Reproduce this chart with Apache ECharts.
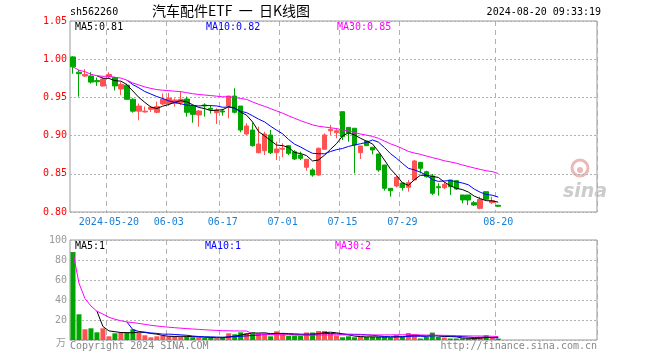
<!DOCTYPE html>
<html><head><meta charset="utf-8">
<script src="https://cdn.jsdelivr.net/npm/echarts@6/dist/echarts.min.js"></script>
<style>html,body{margin:0;padding:0;background:#fff}#c{width:660px;height:360px}</style>
</head><body><div id="c"></div>
<script>
var dates = ['2024-05-10','2024-05-13','2024-05-14','2024-05-15','2024-05-16','2024-05-17','2024-05-20','2024-05-21','2024-05-22','2024-05-23','2024-05-24','2024-05-27','2024-05-28','2024-05-29','2024-05-30','2024-05-31',
'2024-06-03','2024-06-04','2024-06-05','2024-06-06','2024-06-07','2024-06-11','2024-06-12','2024-06-13','2024-06-14','2024-06-17','2024-06-18','2024-06-19','2024-06-20','2024-06-21','2024-06-24','2024-06-25','2024-06-26','2024-06-27','2024-06-28',
'2024-07-01','2024-07-02','2024-07-03','2024-07-04','2024-07-05','2024-07-08','2024-07-09','2024-07-10','2024-07-11','2024-07-12','2024-07-15','2024-07-16','2024-07-17','2024-07-18','2024-07-19','2024-07-22','2024-07-23','2024-07-24','2024-07-25','2024-07-26','2024-07-29','2024-07-30','2024-07-31',
'2024-08-01','2024-08-02','2024-08-05','2024-08-06','2024-08-07','2024-08-08','2024-08-09','2024-08-12','2024-08-13','2024-08-14','2024-08-15','2024-08-16','2024-08-19','2024-08-20'];
var openP  = [1.003,0.983,0.978,0.978,0.972,0.965,0.977,0.976,0.961,0.966,0.9475,0.932,0.931,0.9344,0.9305,0.9414,0.942,0.9422,0.943,0.9479,0.9387,0.927,0.9401,0.9357,0.930,0.9322,0.9387,0.9518,0.9387,0.9021,0.9073,0.8776,0.8802,0.9008,0.8776,0.8821,0.8868,0.8789,0.8746,0.8585,0.855,0.8484,0.8821,0.9064,0.9038,0.9313,0.9108,0.9096,0.8776,0.8929,0.8847,0.8759,0.8615,0.831,0.834,0.838,0.8323,0.8419,0.865,0.8527,0.8471,0.8331,0.8318,0.8419,0.841,0.8223,0.8223,0.8122,0.8048,0.8266,0.8122,0.8088];
var highP  = [1.004,0.986,0.987,0.983,0.976,0.976,0.983,0.977,0.970,0.968,0.949,0.942,0.938,0.939,0.9444,0.9553,0.956,0.9488,0.9575,0.951,0.940,0.9335,0.9422,0.940,0.9357,0.935,0.9518,0.962,0.9387,0.9161,0.9169,0.9117,0.905,0.9073,0.892,0.8899,0.8877,0.881,0.8789,0.869,0.8572,0.8845,0.9029,0.9139,0.9096,0.9313,0.9108,0.9096,0.8864,0.8929,0.8847,0.8759,0.8615,0.831,0.8471,0.838,0.8419,0.8681,0.865,0.854,0.8497,0.8376,0.8397,0.8419,0.841,0.8223,0.8223,0.8144,0.82,0.8266,0.82,0.8092];
var lowP   = [0.981,0.951,0.977,0.968,0.965,0.964,0.975,0.959,0.953,0.947,0.930,0.920,0.930,0.931,0.9292,0.940,0.939,0.9379,0.940,0.9248,0.9169,0.9117,0.9248,0.929,0.9152,0.926,0.9226,0.929,0.9043,0.9008,0.8855,0.8768,0.8746,0.8759,0.868,0.8716,0.8746,0.868,0.868,0.854,0.8462,0.8475,0.8812,0.9008,0.8965,0.8942,0.892,0.8506,0.8694,0.8864,0.8755,0.8527,0.8279,0.82,0.8323,0.828,0.8266,0.8419,0.8506,0.8449,0.8223,0.8214,0.8301,0.8223,0.8288,0.8114,0.8092,0.8079,0.8035,0.8157,0.8105,0.807];
var closeP = [0.990,0.981,0.980,0.970,0.9705,0.974,0.980,0.965,0.967,0.9475,0.932,0.9387,0.932,0.937,0.9379,0.9475,0.949,0.9466,0.9475,0.9305,0.9278,0.9322,0.9387,0.9344,0.9335,0.9309,0.9518,0.9305,0.9073,0.9126,0.8868,0.889,0.9021,0.8776,0.8825,0.8834,0.8768,0.8694,0.8703,0.869,0.8484,0.8834,0.9008,0.9082,0.9064,0.8986,0.9038,0.8877,0.8864,0.8868,0.8812,0.855,0.831,0.8279,0.8454,0.832,0.8384,0.8668,0.8572,0.8462,0.8245,0.8318,0.8362,0.8331,0.8301,0.8157,0.8157,0.8092,0.8166,0.8166,0.8148,0.8075];
var volume = [88,25.7,10.7,11.7,7.7,11.7,3.7,6.7,7.4,7.4,10.7,7.4,4.7,2.7,3.7,4,3.7,3.7,3.4,3.4,2.7,2.7,2,2,1.7,2.7,6.7,5.7,7.7,7,7.7,6.7,6.7,3.7,8.7,6,4,4,4,7.5,7.5,9,9,6,4.5,2.7,3.7,2.7,3.5,3,3,3,3,2.4,5,3,7,5.7,1.5,3,7.4,3,2.5,1.5,1.5,1.7,1.5,1.5,3,4.7,2.2,1.4];
var labelDates = {'2024-05-20':'2024-05-20','2024-06-03':'06-03','2024-06-17':'06-17','2024-07-01':'07-01','2024-07-15':'07-15','2024-07-29':'07-29','2024-08-20':'08-20'};
var priceTicks = [0.80,0.85,0.90,0.95,1.00,1.05];
var volTicks = [20,40,60,80,100];
var emptySlots = 16;

var RED = '#FF5252', GREEN = '#00A600';
var cats = dates.slice();
for (var k = 0; k < emptySlots; k++) cats.push('e' + k);
var kdata = dates.map(function(d, i){ return [openP[i], closeP[i], lowP[i], highP[i]]; });
function ma(arr, n, partial){
  var out = [];
  for (var i = 0; i < arr.length; i++){
    if (i < n - 1 && !partial){ out.push('-'); continue; }
    var s = 0, c = 0;
    for (var j = Math.max(0, i - n + 1); j <= i; j++){ s += arr[j]; c++; }
    out.push(+(s / c).toFixed(4));
  }
  return out;
}
var volData = volume.map(function(v, i){
  return {value: v, itemStyle: {color: closeP[i] >= openP[i] ? RED : GREEN}};
});
function isLbl(idx, val){ return labelDates.hasOwnProperty(val); }
var mono = 'DejaVu Sans Mono';
var gridLine = {show: true, lineStyle: {color: '#b0b0b0', type: [2, 2], width: 1}};
var vLine = {show: true, interval: isLbl, lineStyle: {color: '#b0b0b0', type: [5, 4], width: 1}};

var chart = echarts.init(document.getElementById('c'), null, {renderer: 'canvas'});
chart.setOption({
  animation: false,
  backgroundColor: '#fff',
  grid: [
    {left: 70, top: 21, width: 527, height: 191, show: true, borderColor: '#999', borderWidth: 1, backgroundColor: 'transparent'},
    {left: 70, top: 240, width: 527, height: 100, show: true, borderColor: '#999', borderWidth: 1, backgroundColor: 'transparent'}
  ],
  xAxis: [
    {type: 'category', gridIndex: 0, data: cats, boundaryGap: true,
     axisLine: {show: false}, axisTick: {show: false},
     axisLabel: {interval: isLbl, formatter: function(v){ return labelDates[v] || ''; }, color: '#1a7fd4', fontFamily: mono, fontSize: 10, margin: 5},
     splitLine: vLine},
    {type: 'category', gridIndex: 1, data: cats, boundaryGap: true,
     axisLine: {show: false}, axisTick: {show: false}, axisLabel: {show: false},
     splitLine: vLine}
  ],
  yAxis: [
    {type: 'value', gridIndex: 0, min: 0.8, max: 1.05, interval: 0.05, scale: true,
     axisLine: {show: false}, axisTick: {show: false},
     axisLabel: {color: '#FF0000', fontFamily: mono, fontSize: 10, margin: 3, formatter: function(v){ return v.toFixed(2); }},
     splitLine: gridLine},
    {type: 'value', gridIndex: 1, min: 0, max: 100, interval: 20,
     axisLine: {show: false}, axisTick: {show: false},
     axisLabel: {color: '#999', fontFamily: mono, fontSize: 10, margin: 3, formatter: function(v){ return v === 0 ? '' : String(v); }},
     splitLine: gridLine}
  ],
  series: [
    {type: 'candlestick', xAxisIndex: 0, yAxisIndex: 0, data: kdata, barWidth: 5,
     itemStyle: {color: RED, color0: GREEN, borderColor: RED, borderColor0: GREEN, borderWidth: 1}},
    {type: 'line', xAxisIndex: 0, yAxisIndex: 0, data: ma(closeP, 5, false), symbol: 'none', lineStyle: {color: '#000', width: 1}},
    {type: 'line', xAxisIndex: 0, yAxisIndex: 0, data: ma(closeP, 10, false), symbol: 'none', lineStyle: {color: '#0000FF', width: 1}},
    {type: 'line', xAxisIndex: 0, yAxisIndex: 0, data: ma(closeP, 30, true), symbol: 'none', lineStyle: {color: '#FF00FF', width: 1}},
    {type: 'bar', xAxisIndex: 1, yAxisIndex: 1, data: volData, barWidth: 5},
    {type: 'line', xAxisIndex: 1, yAxisIndex: 1, data: ma(volume, 5, false), symbol: 'none', lineStyle: {color: '#000', width: 1}},
    {type: 'line', xAxisIndex: 1, yAxisIndex: 1, data: ma(volume, 10, false), symbol: 'none', lineStyle: {color: '#0000FF', width: 1}},
    {type: 'line', xAxisIndex: 1, yAxisIndex: 1, data: ma(volume, 30, true), symbol: 'none', lineStyle: {color: '#FF00FF', width: 1}}
  ],
  graphic: [
    {type: 'text', left: 70, top: 7, style: {text: 'sh562260', fill: '#000', font: '10px "DejaVu Sans Mono"'}},
    {type: 'text', left: 152, top: 4, style: {text: '汽车配件ETF  一  日K线图', fill: '#000', font: '14px "Noto Sans CJK SC"'}},
    {type: 'text', right: 59, top: 7, style: {text: '2024-08-20 09:33:19', fill: '#000', font: '10px "DejaVu Sans Mono"'}},
    {type: 'text', left: 75, top: 22, style: {text: 'MA5:0.81', fill: '#000', font: '10px "DejaVu Sans Mono"'}},
    {type: 'text', left: 206, top: 22, style: {text: 'MA10:0.82', fill: '#0000FF', font: '10px "DejaVu Sans Mono"'}},
    {type: 'text', left: 337, top: 22, style: {text: 'MA30:0.85', fill: '#FF00FF', font: '10px "DejaVu Sans Mono"'}},
    {type: 'text', left: 75, top: 241, style: {text: 'MA5:1', fill: '#000', font: '10px "DejaVu Sans Mono"'}},
    {type: 'text', left: 205, top: 241, style: {text: 'MA10:1', fill: '#0000FF', font: '10px "DejaVu Sans Mono"'}},
    {type: 'text', left: 335, top: 241, style: {text: 'MA30:2', fill: '#FF00FF', font: '10px "DejaVu Sans Mono"'}},
    {type: 'text', right: 594, top: 337, style: {text: '万', fill: '#999', font: '10px "Noto Sans CJK SC"'}},
    {type: 'text', left: 70, top: 341, style: {text: 'Copyright 2024 SINA.COM', fill: '#888', font: '10px "DejaVu Sans Mono"'}},
    {type: 'text', right: 63, top: 341, style: {text: 'http://finance.sina.com.cn', fill: '#888', font: '10px "DejaVu Sans Mono"'}},
    {type: 'circle', shape: {cx: 580, cy: 168, r: 8}, style: {fill: 'none', stroke: '#ecb8b8', lineWidth: 3}, z: 0},
    {type: 'circle', shape: {cx: 580, cy: 170, r: 3}, style: {fill: '#ecb8b8'}, z: 0},
    {type: 'text', left: 563, top: 183, style: {text: 'sina', fill: '#cccccc', font: 'italic bold 19px "DejaVu Sans"'}, z: 0}
  ]
});
</script></body></html>
